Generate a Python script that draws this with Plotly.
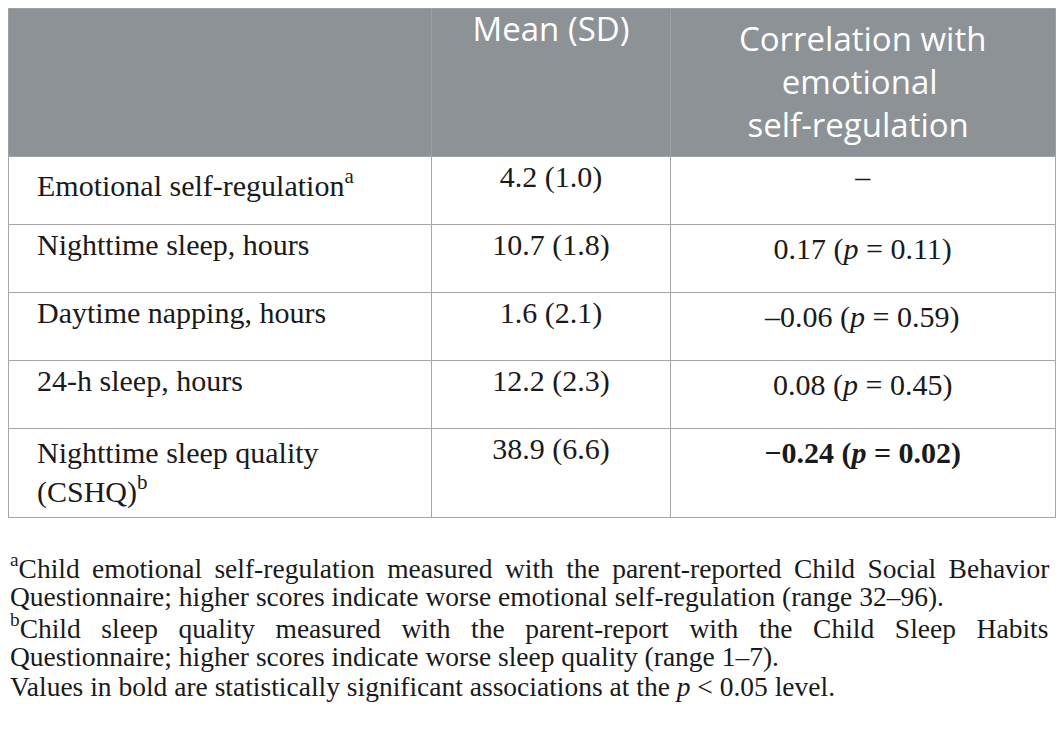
import plotly.graph_objects as go

# table content
col_headers = ["", "Mean (SD)", "Correlation with<br>emotional<br>self-regulation"]
variables = [
    "Emotional self-regulation<sup>a</sup>",
    "Nighttime sleep, hours",
    "Daytime napping, hours",
    "24-h sleep, hours",
    "Nighttime sleep quality<br>(CSHQ)<sup>b</sup>",
]
mean_sd = ["4.2 (1.0)", "10.7 (1.8)", "1.6 (2.1)", "12.2 (2.3)", "38.9 (6.6)"]
correlations = [
    "–",
    "0.17 (<i>p</i> = 0.11)",
    "–0.06 (<i>p</i> = 0.59)",
    "0.08 (<i>p</i> = 0.45)",
    "<b>−0.24 (<i>p</i> = 0.02)</b>",
]
footnotes = [
    "<sup>a</sup>Child emotional self-regulation measured with the parent-reported Child Social Behavior",
    "Questionnaire; higher scores indicate worse emotional self-regulation (range 32–96).",
    "<sup>b</sup>Child sleep quality measured with the parent-report with the Child Sleep Habits",
    "Questionnaire; higher scores indicate worse sleep quality (range 1–7).",
    "Values in bold are statistically significant associations at the <i>p</i> < 0.05 level.",
]
# extra spacing between words so the long footnote lines fill the width (justified)
footnote_gaps = ["\u2009", "", "\u00a0\u00a0", "", ""]

W, H = 1064, 744
OFF = 8  # default body margin of the html page
NB = "\u00a0"


def indent(txt):
    return NB * 2 + "\u2009" + txt.replace("<br>", "<br>" + NB * 2 + "\u2009")


def center_lines(txt, pads):
    # table cells align the text block, not each line, so pad the short lines
    return "<br>".join(NB * p + ln for p, ln in zip(pads, txt.split("<br>")))


header_vals = [col_headers[0], col_headers[1], center_lines(col_headers[2], [0, 5, 1])]

fig = go.Figure(go.Table(
    columnwidth=[424, 239, 385],
    header=dict(
        values=header_vals,
        fill_color="#8c9295",
        line_color="#9ca1a4",
        align="center",
        font=dict(family="Open Sans", size=33, color="white"),
        height=148,
    ),
    cells=dict(
        values=[[indent(v) for v in variables], mean_sd, correlations],
        fill_color="white",
        line_color="#a6a6a6",
        align=["left", "center", "center"],
        font=dict(family="Liberation Serif", size=30, color="#1a1a1a"),
        height=68,
    ),
    domain=dict(x=[0, (1055 - OFF) / W], y=[0, 1]),
))

for i, line in enumerate(footnotes):
    gap = footnote_gaps[i]
    if gap:
        line = line.replace(" ", " " + gap)
    fig.add_annotation(
        x=0, y=1 - (566 + 30 * i - OFF) / H,
        xref="paper", yref="paper", xanchor="left", yanchor="middle",
        text=line, showarrow=False,
        font=dict(family="Liberation Serif", size=27.5, color="#1a1a1a"),
    )

fig.update_layout(
    width=W, height=H,
    margin=dict(l=0, r=0, t=0, b=0),
    paper_bgcolor="white",
)

fig.write_html("out.html")
